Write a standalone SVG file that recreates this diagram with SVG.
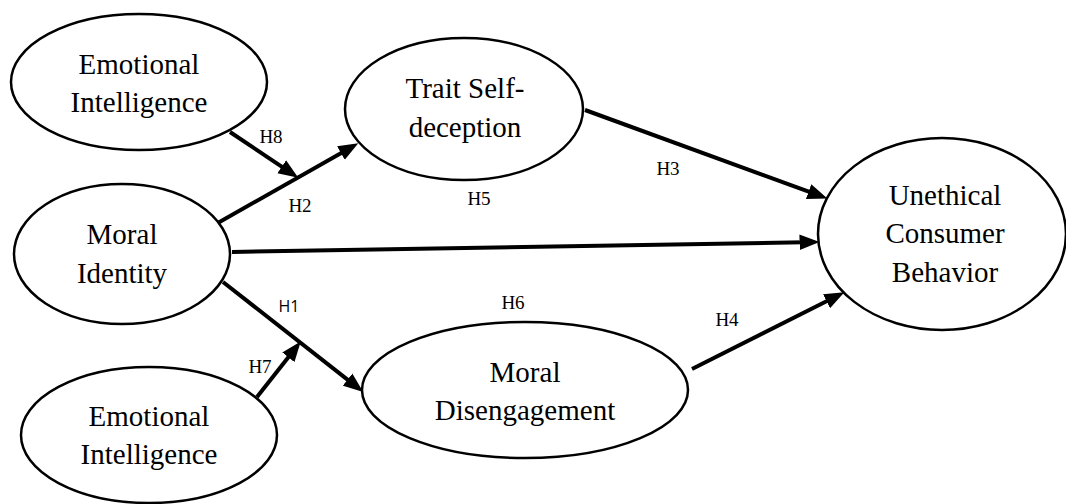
<svg xmlns="http://www.w3.org/2000/svg" width="1066" height="504" viewBox="0 0 1066 504">
<style>
.node ellipse{fill:#fff;stroke:#000;stroke-width:2.5}
.node text{font-family:'Liberation Serif','Times New Roman',serif;font-size:29px;fill:#000;text-anchor:middle}
.conn line{stroke:#000;stroke-width:4;marker-end:url(#ah)}
.lbl{font-family:'Liberation Serif','Times New Roman',serif;font-size:19px;fill:#000;text-anchor:middle}
.lbls{font-family:'Open Sans','Noto Sans',sans-serif;font-size:16px;fill:#000;text-anchor:middle}
</style>
<defs>
<marker id="ah" markerUnits="userSpaceOnUse" markerWidth="20" markerHeight="16" viewBox="0 0 18 14" refX="4" refY="7" orient="auto">
<path d="M0,0 L18,7 L0,14 z" fill="#000"/>
</marker>
</defs>
<rect width="1066" height="504" fill="#fff"/>
<g id="connectors" class="conn">
<line x1="230" y1="132" x2="285.4" y2="169.2"/>
<line x1="216" y1="224" x2="344.8" y2="150.9"/>
<line x1="585" y1="110" x2="812.8" y2="193.2"/>
<line x1="232" y1="252" x2="804" y2="242.2"/>
<line x1="223" y1="282" x2="351" y2="382.4"/>
<line x1="257" y1="397" x2="291.1" y2="353.8"/>
<line x1="692" y1="369" x2="830.5" y2="299.3"/>
</g>
<g id="labels">
<text class="lbl" x="271" y="143">H8</text>
<text class="lbl" x="300" y="212">H2</text>
<text class="lbl" x="479" y="205">H5</text>
<text class="lbl" x="668" y="175">H3</text>
<text class="lbls" x="289" y="312">H1</text>
<text class="lbl" x="513" y="309">H6</text>
<text class="lbl" x="727" y="326">H4</text>
<text class="lbl" x="260" y="373">H7</text>
</g>
<g id="ei-top" class="node">
<ellipse cx="139" cy="82" rx="128" ry="68"/>
<text x="139" y="74">Emotional</text>
<text x="139" y="112">Intelligence</text>
</g>
<g id="trait" class="node">
<ellipse cx="464" cy="109" rx="119" ry="71"/>
<text x="465" y="98">Trait Self-</text>
<text x="465" y="137">deception</text>
</g>
<g id="moral-identity" class="node">
<ellipse cx="122" cy="254" rx="108" ry="70"/>
<text x="122" y="244">Moral</text>
<text x="122" y="283">Identity</text>
</g>
<g id="ei-bottom" class="node">
<ellipse cx="149" cy="435" rx="128" ry="68"/>
<text x="149" y="426">Emotional</text>
<text x="149" y="464">Intelligence</text>
</g>
<g id="moral-disengagement" class="node">
<ellipse cx="525" cy="390" rx="163" ry="68"/>
<text x="525" y="382">Moral</text>
<text x="525" y="420">Disengagement</text>
</g>
<g id="ucb" class="node">
<ellipse cx="942" cy="234" rx="124" ry="96"/>
<text x="945" y="205">Unethical</text>
<text x="945" y="243">Consumer</text>
<text x="945" y="282">Behavior</text>
</g>
</svg>
